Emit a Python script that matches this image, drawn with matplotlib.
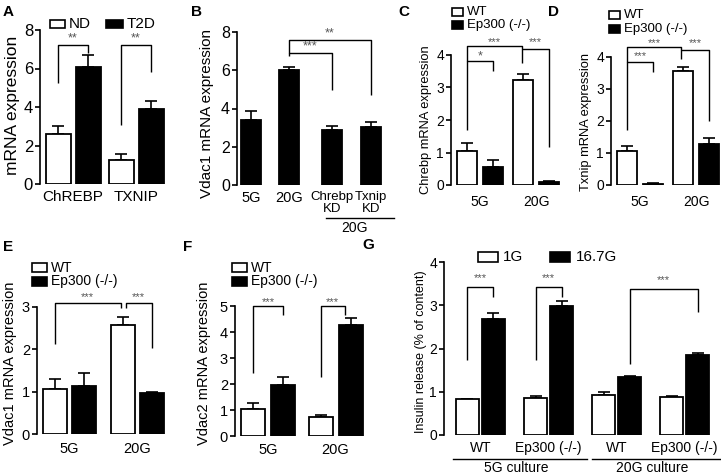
import matplotlib
matplotlib.use('Agg')
import matplotlib.pyplot as plt
from matplotlib.patches import Rectangle
from matplotlib.lines import Line2D
import numpy as np

plt.rcParams['font.family'] = ['Liberation Sans', 'DejaVu Sans']

# ---------------- data ----------------
A_groups = ['ChREBP', 'TXNIP']
A_nd = [2.6, 1.25]
A_nd_err = [0.4, 0.3]
A_t2d = [6.1, 3.9]
A_t2d_err = [0.6, 0.4]

B_labels = ['5G', '20G', 'Chrebp\nKD', 'Txnip\nKD']
B_vals = [3.4, 6.0, 2.9, 3.05]
B_err = [0.45, 0.15, 0.2, 0.25]

C_groups = ['5G', '20G']
C_wt = [1.06, 3.23]
C_wt_err = [0.22, 0.19]
C_ep = [0.56, 0.1]
C_ep_err = [0.21, 0.02]

D_groups = ['5G', '20G']
D_wt = [1.07, 3.57]
D_wt_err = [0.16, 0.12]
D_ep = [0.04, 1.27]
D_ep_err = [0.01, 0.21]

E_groups = ['5G', '20G']
E_wt = [1.06, 2.57]
E_wt_err = [0.24, 0.2]
E_ep = [1.14, 0.98]
E_ep_err = [0.31, 0.02]

F_groups = ['5G', '20G']
F_wt = [1.05, 0.73]
F_wt_err = [0.22, 0.09]
F_ep = [1.95, 4.26]
F_ep_err = [0.32, 0.26]

G_groups = ['WT', 'Ep300 (-/-)', 'WT', 'Ep300 (-/-)']
G_cultures = ['5G culture', '20G culture']
G_1g = [0.83, 0.86, 0.92, 0.87]
G_1g_err = [0.01, 0.04, 0.07, 0.03]
G_167 = [2.69, 2.98, 1.33, 1.85]
G_167_err = [0.13, 0.11, 0.03, 0.05]

# ---------------- helpers ----------------
W, H = 721, 475
fig = plt.figure(figsize=(W / 100, H / 100), dpi=100)
STAR = '#555555'


def fx(x):
    return x / W


def fy(y):
    return 1 - y / H


def make_ax(x0, ytop, ybot, x1, ymax, yfs, xfs, xpad):
    ax = fig.add_axes([fx(x0), fy(ybot), (x1 - x0) / W, (ybot - ytop) / H])
    ax.set_xlim(0, x1 - x0)
    ax.set_ylim(0, ymax)
    ax.patch.set_alpha(0)
    for s in ['top', 'right', 'bottom']:
        ax.spines[s].set_visible(False)
    ax.spines['left'].set_linewidth(1.2)
    ax.set_yticks(np.arange(0, ymax + 0.5, 1 if ymax <= 5 else 2))
    ax.tick_params(axis='y', direction='out', length=3.5, width=1.2, pad=1.5,
                   labelsize=yfs)
    ax.tick_params(axis='x', length=0, labelsize=xfs, pad=xpad)
    return ax


def bars(ax, x, vals, errs, color, width):
    ax.bar(x, vals, width=width, color=color, edgecolor='black', linewidth=1.3,
           zorder=2)
    ax.errorbar(x, vals, yerr=[np.zeros(len(vals)), errs], fmt='none',
                ecolor='black', elinewidth=1.2, capsize=4, capthick=1.2, zorder=1)


def bracket(ax, x1, x2, y, y1, y2, text, ty, fs=8):
    ax.plot([x1, x1, x2, x2], [y1, y, y, y2], color='black', lw=1.0,
            clip_on=False, solid_capstyle='butt')
    ax.text((x1 + x2) / 2, ty, text, ha='center', va='center', fontsize=fs,
            color=STAR, clip_on=False)


def legend_box(x, y, w, h, color, label, fs, tx_gap=4):
    fig.add_artist(Rectangle((fx(x), fy(y + h)), w / W, h / H,
                             transform=fig.transFigure, facecolor=color,
                             edgecolor='black', linewidth=1.2))
    fig.text(fx(x + w + tx_gap), fy(y + h / 2), label, ha='left', va='center',
             fontsize=fs)


def panel_label(x, y, s):
    fig.text(fx(x), fy(y), s, ha='left', va='center', fontsize=11,
             fontweight='bold')


def ylabel(x, y, s, fs):
    fig.text(fx(x), fy(y), s, rotation=90, ha='center', va='center', fontsize=fs)


# ---------------- Panel A ----------------
axA = make_ax(40, 30, 184, 170, 8, 12, 11, 4.5)
gA = np.array([33.0, 96.0])
offA = 15
bars(axA, gA - offA, A_nd, A_nd_err, 'white', 25)
bars(axA, gA + offA, A_t2d, A_t2d_err, 'black', 25)
axA.set_xticks(gA, A_groups)
bracket(axA, gA[0] - offA, gA[0] + offA, 7.22, 5.25, 6.8, '**', 7.55, 9)
bracket(axA, gA[1] - offA, gA[1] + offA, 7.22, 3.07, 5.83, '**', 7.55, 9)
legend_box(50, 20, 15, 8, 'white', 'ND', 11)
legend_box(106, 20, 17, 8, 'black', 'T2D', 11)
ylabel(13, 105, 'mRNA expression', 12.5)
panel_label(3, 12, 'A')

# ---------------- Panel B ----------------
axB = make_ax(237, 32, 185, 395, 8, 11.5, 9.5, 4)
xB = np.array([14.0, 52.0, 95.0, 134.0])
bars(axB, xB, B_vals, B_err, 'black', 20)
axB.set_xticks(xB, B_labels)
for t in axB.get_xticklabels():
    t.set_linespacing(1.0)
axB.get_xticklabels()[0].set_fontsize(10.5)
axB.get_xticklabels()[1].set_fontsize(10.5)
bracket(axB, xB[1], xB[3], 7.59, 6.9, 4.71, '**', 7.95, 9)
bracket(axB, xB[1], xB[2], 6.9, 6.75, 4.97, '***', 7.25, 9)
fig.add_artist(Line2D([fx(326), fx(394)], [fy(218), fy(218)],
                      transform=fig.transFigure, color='black', lw=1.0))
fig.text(fx(355), fy(228), '20G', ha='center', va='center', fontsize=10)
ylabel(207, 114, 'Vdac1 mRNA expression', 11)
panel_label(191, 12, 'B')

# ---------------- Panel C ----------------
axC = make_ax(451, 55, 185, 565, 4, 10, 10, 7)
gC = np.array([29.0, 85.0])
off = 13
bars(axC, gC - off, C_wt, C_wt_err, 'white', 20)
bars(axC, gC + off, C_ep, C_ep_err, 'black', 20)
axC.set_xticks(gC, C_groups)
bracket(axC, gC[0] - off, gC[0] + off, 3.8, 1.7, 3.5, '*', 3.97, 9)
bracket(axC, gC[0] - off, gC[1] - off - 1, 4.28, 3.8, 3.75, '***', 4.4)
bracket(axC, gC[1] - off - 1, gC[1] + off, 4.18, 4.18, 1.17, '***', 4.4)
legend_box(452, 8, 11, 8, 'white', 'WT', 9.5)
legend_box(452, 21, 11, 8, 'black', 'Ep300 (-/-)', 9.5)
ylabel(426, 120, 'Chrebp mRNA expression', 9.3)
panel_label(398, 12, 'C')

# ---------------- Panel D ----------------
axD = make_ax(611, 57, 185, 721, 4, 10, 10, 7)
bars(axD, gC - off, D_wt, D_wt_err, 'white', 20)
bars(axD, gC + off, D_ep, D_ep_err, 'black', 20)
axD.set_xticks(gC, D_groups)
bracket(axD, gC[0] - off, gC[0] + off, 3.85, 1.72, 3.54, '***', 4.02)
bracket(axD, gC[0] - off, gC[1] - off - 2, 4.32, 3.85, 3.93, '***', 4.45)
bracket(axD, gC[1] - off - 2, gC[1] + off, 4.22, 4.22, 2.0, '***', 4.45)
legend_box(609, 11, 11, 8, 'white', 'WT', 9.5)
legend_box(609, 25, 11, 8, 'black', 'Ep300 (-/-)', 9.5)
ylabel(586, 122, 'Txnip mRNA expression', 9.3)
panel_label(548, 12, 'D')

# ---------------- Panel E ----------------
axE = make_ax(37, 307, 434, 170, 3, 10.5, 10.5, 6)
gE = np.array([32.5, 100.0])
offE = 14.5
bars(axE, gE - offE, E_wt, E_wt_err, 'white', 24)
bars(axE, gE + offE, E_ep, E_ep_err, 'black', 24)
axE.set_xticks(gE, E_groups)
bracket(axE, gE[0] - offE, gE[1] - offE - 2, 3.1, 2.12, 2.97, '***', 3.24)
bracket(axE, gE[1] - offE + 3, gE[1] + offE, 3.1, 2.97, 2.03, '***', 3.24)
legend_box(32, 263, 15, 9, 'white', 'WT', 10)
legend_box(32, 277, 15, 9, 'black', 'Ep300 (-/-)', 10)
ylabel(10, 363, 'Vdac1 mRNA expression', 10.5)
panel_label(3, 247, 'E')

# ---------------- Panel F ----------------
axF = make_ax(235, 306, 436, 368, 5, 10.5, 10.5, 5)
gF = np.array([33.0, 100.5])
offF = 15
bars(axF, gF - offF, F_wt, F_wt_err, 'white', 24)
bars(axF, gF + offF, F_ep, F_ep_err, 'black', 24)
axF.set_xticks(gF, F_groups)
bracket(axF, gF[0] - offF, gF[0] + offF, 4.99, 2.44, 4.64, '***', 5.15)
bracket(axF, gF[1] - offF, gF[1] + offF - 6, 4.99, 2.27, 4.64, '***', 5.15)
legend_box(232, 263, 15, 9, 'white', 'WT', 10)
legend_box(232, 277, 15, 9, 'black', 'Ep300 (-/-)', 10)
ylabel(204, 363, 'Vdac2 mRNA expression', 10.5)
panel_label(183, 247, 'F')

# ---------------- Panel G ----------------
axG = make_ax(444, 262, 435, 721, 4, 10, 10, 4.5)
gG = 36.5 + 68 * np.arange(len(G_groups))
offG = 13
bars(axG, gG - offG, G_1g, G_1g_err, 'white', 23)
bars(axG, gG + offG, G_167, G_167_err, 'black', 23)
axG.set_xticks(gG, G_groups)
bracket(axG, gG[0] - offG, gG[0] + offG, 3.42, 1.73, 3.19, '***', 3.62)
bracket(axG, gG[1] - offG, gG[1] + offG, 3.42, 1.73, 3.19, '***', 3.62)
bracket(axG, gG[2] + offG, gG[3] + offG, 3.38, 1.65, 2.85, '***', 3.58)
for (a, b), name in zip([(453, 587), (592, 720)], G_cultures):
    fig.add_artist(Line2D([fx(a), fx(b)], [fy(459), fy(459)],
                          transform=fig.transFigure, color='black', lw=1.0))
    fig.text(fx((a + b) / 2 - 4), fy(468), name, ha='center', va='center',
             fontsize=10)
legend_box(478, 252, 20, 10, 'white', '1G', 11, 5)
legend_box(550, 252, 20, 10, 'black', '16.7G', 11, 6)
ylabel(421, 352, 'Insulin release (% of content)', 9)
panel_label(362, 245, 'G')

fig.savefig('out.png', dpi=100)
